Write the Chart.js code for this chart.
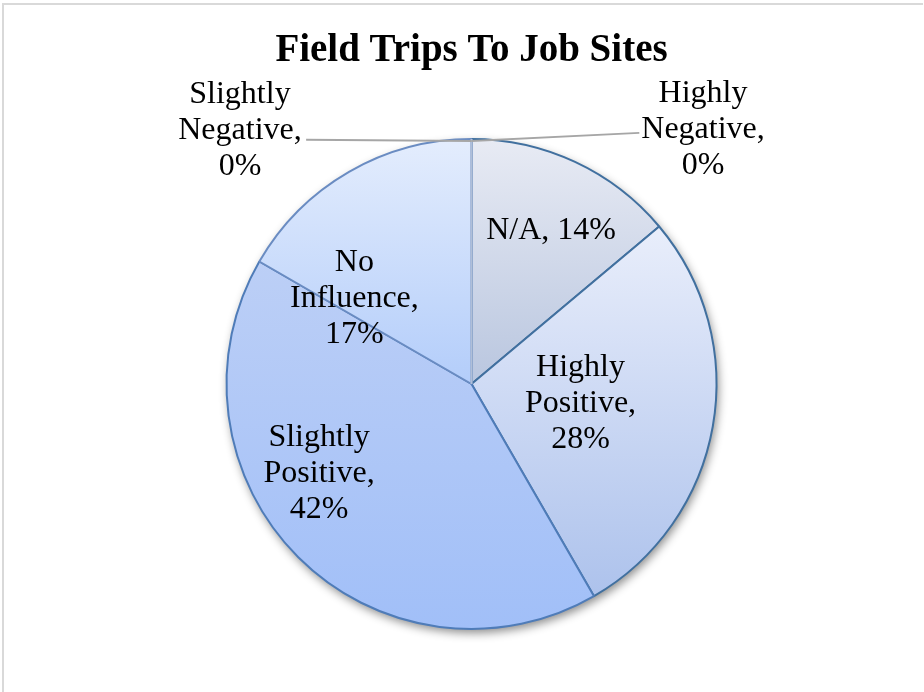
<!DOCTYPE html>
<html>
<head>
<meta charset="utf-8">
<title>Field Trips To Job Sites</title>
<script src="https://cdn.jsdelivr.net/npm/chart.js@4/dist/chart.umd.min.js"></script>
<style>
    html, body { margin: 0; padding: 0; background: #ffffff; }
    canvas { display: block; }
</style>
</head>
<body>
<canvas id="trips" width="924" height="692"></canvas>
<script>
// Survey answers (counts), clockwise from 12 o'clock
const categories = ['Highly Negative', 'N/A', 'Highly Positive', 'Slightly Positive', 'No Influence', 'Slightly Negative'];
const responses = [0, 5, 10, 15, 6, 0];
const chartTitle = 'Field Trips To Job Sites';

// gradient stops per slice (top -> bottom)
const fillTop = ['#e8ebf4', '#e8ebf4', '#e9eefb', '#bccff6', '#e4edfd', '#e4edfd'];
const fillBottom = ['#b9c6df', '#b9c6df', '#adc2ec', '#a1bff8', '#b3cdfa', '#b3cdfa'];
const edgeColors = ['#b0bfd8', '#41709f', '#41709f', '#4f7cb8', '#6a8cc2', '#b0bfd8'];

// where each data label sits, in pie radii from the centre
const labelSpots = [[0.945, -1.04], [0.325, -0.625], [0.445, 0.08], [-0.622, 0.365], [-0.478, -0.35], [-0.945, -1.033]];
// leader line ends for the labels outside the pie
const leaderEnds = {0: [0.685, -1.025], 5: [-0.675, -0.997]};

const total = responses.reduce((a, b) => a + b, 0);

function pct(v) {
    return Math.round(v / total * 100) + '%';
}

function labelLines(i) {
    const name = categories[i];
    const p = pct(responses[i]);
    if (name === 'N/A') return [name + ', ' + p];
    const words = name.split(' ');
    return [words[0], words[1] + ',', p];
}

// vertical gradient over the wedge's own height
function sliceGradient(ctx) {
    const chart = ctx.chart;
    const area = chart.chartArea;
    const i = ctx.dataIndex;
    if (!area) return fillTop[i];
    const cx = (area.left + area.right) / 2;
    const cy = (area.top + area.bottom) / 2;
    const r = Math.min(area.right - area.left, area.bottom - area.top) / 2;
    let before = 0;
    for (let k = 0; k < i; k++) before += responses[k];
    const a0 = before / total * 2 * Math.PI - Math.PI / 2;
    const a1 = (before + responses[i]) / total * 2 * Math.PI - Math.PI / 2;
    const ys = [cy, cy + r * Math.sin(a0), cy + r * Math.sin(a1)];
    if (a0 <= Math.PI / 2 && a1 >= Math.PI / 2) ys.push(cy + r);
    if (a1 >= 3 * Math.PI / 2) ys.push(cy - r);
    const y0 = Math.min(...ys), y1 = Math.max(...ys);
    const g = chart.ctx.createLinearGradient(0, y0, 0, Math.max(y1, y0 + 1));
    g.addColorStop(0, fillTop[i]);
    g.addColorStop(1, fillBottom[i]);
    return g;
}

const decorations = {
    id: 'decorations',
    beforeDraw(chart) {
        const c = chart.ctx;
        c.save();
        c.strokeStyle = '#d9d9d9';
        c.lineWidth = 2;
        c.beginPath();
        c.moveTo(3, 692);
        c.lineTo(3, 4);
        c.lineTo(923, 4);
        c.stroke();
        c.restore();
    },
    beforeDatasetsDraw(chart) {
        const arc = chart.getDatasetMeta(0).data[0];
        const c = chart.ctx;
        c.save();
        c.shadowColor = 'rgba(0, 0, 0, 0.45)';
        c.shadowBlur = 10;
        c.shadowOffsetX = 2;
        c.shadowOffsetY = 4;
        c.fillStyle = '#ffffff';
        c.beginPath();
        c.arc(arc.x, arc.y, arc.outerRadius, 0, 2 * Math.PI);
        c.fill();
        c.restore();
    },
    afterDatasetsDraw(chart) {
        const arcs = chart.getDatasetMeta(0).data;
        const c = chart.ctx;
        const cx = arcs[0].x, cy = arcs[0].y, r = arcs[0].outerRadius;
        c.save();

        // divider under the two empty slices
        const top = arcs[0].startAngle;
        c.strokeStyle = edgeColors[0];
        c.lineWidth = 2;
        c.beginPath();
        c.moveTo(cx, cy);
        c.lineTo(cx + r * Math.cos(top), cy + r * Math.sin(top));
        c.stroke();

        // leader lines
        c.strokeStyle = '#a6a6a6';
        c.lineWidth = 2;
        Object.keys(leaderEnds).forEach(k => {
            const e = leaderEnds[k];
            const a = arcs[k].startAngle;
            c.beginPath();
            c.moveTo(cx + r * Math.cos(a), cy + r * Math.sin(a) + 2);
            c.lineTo(cx + e[0] * r, cy + e[1] * r);
            c.stroke();
        });

        // data labels
        c.fillStyle = '#000000';
        c.font = '32px "Liberation Serif", "Times New Roman", serif';
        c.textAlign = 'center';
        c.textBaseline = 'middle';
        const lh = 36;
        categories.forEach((name, i) => {
            const lines = labelLines(i);
            const x = cx + labelSpots[i][0] * r;
            const y = cy + labelSpots[i][1] * r;
            lines.forEach((t, j) => {
                c.fillText(t, x, y + (j - (lines.length - 1) / 2) * lh);
            });
        });

        // title
        c.font = 'bold 39px "Liberation Serif", "Times New Roman", serif';
        c.fillText(chartTitle, cx, 51);
        c.restore();
    }
};

new Chart(document.getElementById('trips'), {
    type: 'pie',
    data: {
        labels: categories,
        datasets: [{
            data: responses,
            backgroundColor: sliceGradient,
            borderColor: edgeColors,
            borderWidth: 2
        }]
    },
    options: {
        responsive: false,
        animation: false,
        layout: {
            padding: { top: 138, bottom: 62, left: 19, right: 0 }
        },
        plugins: {
            legend: { display: false },
            tooltip: { enabled: false },
            title: { display: false }
        }
    },
    plugins: [decorations]
});
</script>
</body>
</html>
